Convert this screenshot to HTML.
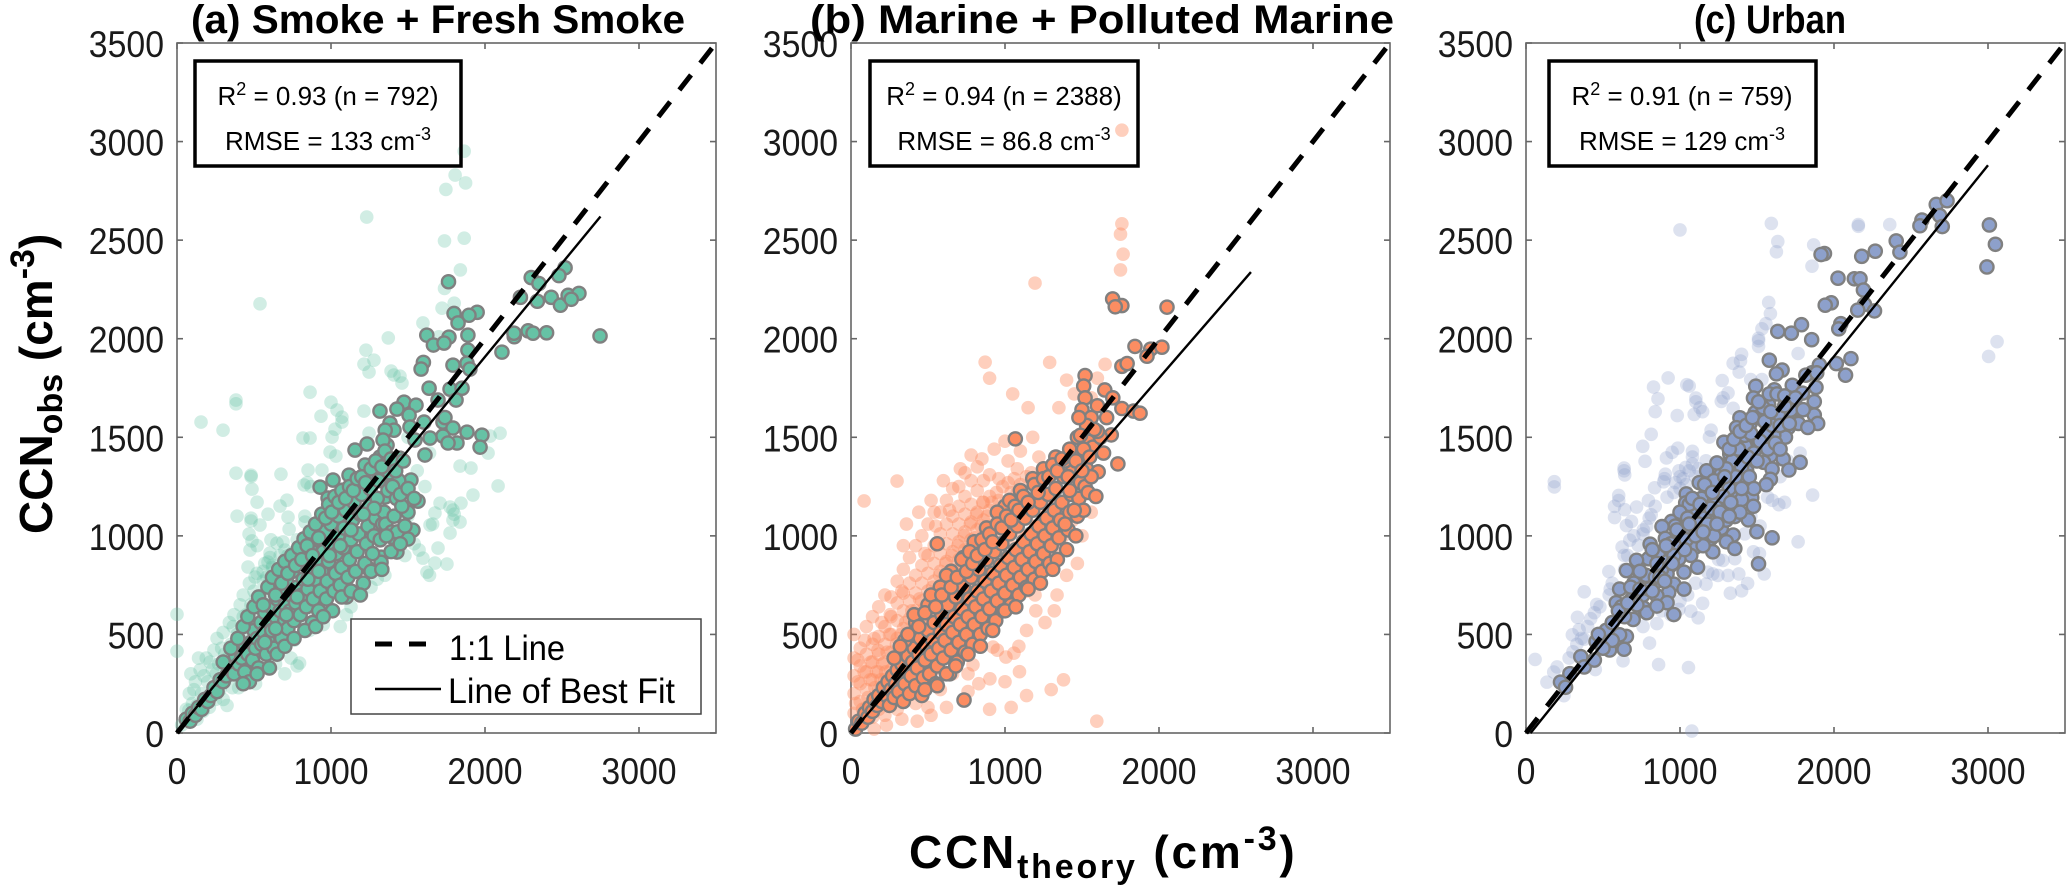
<!DOCTYPE html>
<html>
<head>
<meta charset="utf-8">
<title>CCN closure scatter panels</title>
<style>
html,body{margin:0;padding:0;background:#fff;}
svg{display:block;font-family:"Liberation Sans",sans-serif;}
</style>
</head>
<body>
<svg id="figure" width="2067" height="892" viewBox="0 0 2067 892" xmlns="http://www.w3.org/2000/svg">
  <rect width="2067" height="892" fill="#fff"/>
  <g id="panels"></g>

  <text x="191" y="33" font-size="40" font-weight="bold" textLength="494" lengthAdjust="spacingAndGlyphs">(a) Smoke + Fresh Smoke</text>
  <text x="810" y="33" font-size="40" font-weight="bold" textLength="584" lengthAdjust="spacingAndGlyphs">(b) Marine + Polluted Marine</text>
  <text x="1694" y="33" font-size="40" font-weight="bold" textLength="152" lengthAdjust="spacingAndGlyphs">(c) Urban</text>

  <g transform="translate(52,534) rotate(-90)">
    <text font-size="46" font-weight="bold">CCN<tspan font-size="34" dy="10">obs</tspan><tspan dy="-10"> (cm</tspan><tspan font-size="34" dy="-18">-3</tspan><tspan dy="18">)</tspan></text>
  </g>
  <g transform="translate(909,868)">
    <text font-size="46" font-weight="bold" letter-spacing="2.8">CCN<tspan font-size="34" dy="10">theory</tspan><tspan dy="-10"> (cm</tspan><tspan font-size="34" dy="-18">-3</tspan><tspan dy="18">)</tspan></text>
  </g>

  <g>
    <rect x="195" y="61" width="266" height="105" fill="none" stroke="#000" stroke-width="3.5"/>
    <text x="328" y="105" font-size="26" text-anchor="middle">R<tspan font-size="18" dy="-10">2</tspan><tspan dy="10"> = 0.93 (n = 792)</tspan></text>
    <text x="328" y="150" font-size="26" text-anchor="middle">RMSE = 133 cm<tspan font-size="18" dy="-10">-3</tspan></text>
  </g>
  <g>
    <rect x="870" y="61" width="268" height="105" fill="none" stroke="#000" stroke-width="3.5"/>
    <text x="1004" y="105" font-size="26" text-anchor="middle">R<tspan font-size="18" dy="-10">2</tspan><tspan dy="10"> = 0.94 (n = 2388)</tspan></text>
    <text x="1004" y="150" font-size="26" text-anchor="middle">RMSE = 86.8 cm<tspan font-size="18" dy="-10">-3</tspan></text>
  </g>
  <g>
    <rect x="1549" y="61" width="267" height="105" fill="none" stroke="#000" stroke-width="3.5"/>
    <text x="1682" y="105" font-size="26" text-anchor="middle">R<tspan font-size="18" dy="-10">2</tspan><tspan dy="10"> = 0.91 (n = 759)</tspan></text>
    <text x="1682" y="150" font-size="26" text-anchor="middle">RMSE = 129 cm<tspan font-size="18" dy="-10">-3</tspan></text>
  </g>

  <g>
    <rect x="351" y="619" width="350" height="95" fill="#fff" stroke="#444" stroke-width="1.5"/>
    <line x1="375" y1="644" x2="392" y2="644" stroke="#000" stroke-width="5"/>
    <line x1="409" y1="644" x2="426" y2="644" stroke="#000" stroke-width="5"/>
    <text x="449" y="660" font-size="35" textLength="116" lengthAdjust="spacingAndGlyphs">1:1 Line</text>
    <line x1="375" y1="689" x2="441" y2="689" stroke="#000" stroke-width="2.5"/>
    <text x="448" y="703" font-size="35" textLength="227" lengthAdjust="spacingAndGlyphs">Line of Best Fit</text>
  </g>
</svg>

<script>
const xTicks = [0, 1000, 2000, 3000];
const yTicks = [0, 500, 1000, 1500, 2000, 2500, 3000, 3500];
const oneToOne = [[0, 0], [3500, 3500]];
const smokeFit = [[0, 10], [2750, 2620]];
const marineFit = [[0, 0], [2597, 2338]];
const urbanFit = [[30, 0], [3000, 2880]];

const smokeLight = [
[1865,2951],[1806,2830],[1874,2790],[1746,2757],[1232,2617],[1737,2496],[1865,2510],[1840,2349],[1737,2255],[539,2177],
[1372,2004],[1227,1942],[1279,1891],[1214,1871],[1247,1831],[1390,1836],[1409,1816],[1448,1810],[1461,1775],[1597,2080],
[1721,2155],[383,1689],[383,1670],[156,1577],[299,1536],[864,1729],[1000,1678],[1039,1638],[935,1607],[1071,1602],
[1071,1577],[1214,1633],[1026,1541],[818,1496],[864,1496],[1007,1501],[1247,1521],[994,1425],[1032,1405],[383,1318],
[481,1308],[481,1300],[675,1313],[851,1334],[941,1334],[825,1258],[845,1270],[870,1250],[487,1237],[520,1171],
[714,1181],[669,1151],[390,1100],[591,1110],[481,1090],[481,1075],[721,1095],[539,1055],[831,1070],[728,1034],
[468,1009],[487,974],[474,928],[649,963],[689,969],[604,913],[604,890],[701,928],[747,913],[591,867],
[461,842],[507,791],[584,791],[620,850],[670,830],[2098,1521],[2033,1506],[2020,1420],[1838,1354],[1909,1344],
[2085,1253],[1922,1207],[1844,1166],[1708,1166],[1773,1146],[1675,1116],[1792,1131],[1800,1110],[1792,1080],[1838,1070],
[1643,1055],[1660,1060],[1773,1014],[1695,938],[1572,928],[1597,887],[1675,862],[1753,857],[1623,816],[1640,800],
[0,602],[0,415],[30,40],[60,120],[77,115],[80,200],[100,150],[120,260],[130,70],[150,320],
[160,200],[170,110],[190,380],[200,260],[210,130],[230,320],[240,420],[250,170],[260,480],[270,350],
[280,220],[300,510],[310,400],[320,280],[325,140],[340,560],[350,450],[370,600],[380,340],[390,500],
[400,230],[410,650],[420,540],[430,700],[440,420],[450,600],[460,310],[470,760],[480,650],[490,530],
[500,720],[510,250],[520,810],[540,620],[550,350],[560,770],[570,860],[590,700],[610,560],[620,840],
[630,400],[650,760],[670,900],[690,830],[710,470],[740,380],[760,470],[780,340],[796,355],[820,560],
[860,520],[900,600],[950,550],[1000,620],[1060,540],[1100,600],[1130,640],[1200,700],[1260,740],[1300,780],
[1350,800],[1480,900],[1540,960],[1500,1100],[1610,1250],[1560,1330],[1500,1500],[1640,1420],[1700,2010],[1800,2180],
[90,300],[110,220],[140,380],[175,290],[215,360],[255,300],[290,430],[330,380],[365,540],[395,430],
[430,590],[465,520],[510,680],[555,560],[600,760],[650,640],[720,900],[780,980],[830,1100],[480,350],
[570,420],[680,550],[760,600],[850,680],[940,760],[130,140],[70,80],[300,170],[360,230],[440,250],
[640,350],[700,300],[560,820],[610,980],[520,950]
];
const smokeDark = [
[2747,2014],[1763,2289],[2300,2310],[2340,2190],[2230,2210],[2400,2030],[2280,2040],[2190,2010],[2430,2210],[2490,2170],
[2520,2360],[2480,2320],[2540,2220],[2610,2230],[2560,2200],[2350,2280],[1949,2134],[1799,2128],[1896,2119],[1825,2080],
[1622,2018],[1889,2018],[1766,2008],[1665,1968],[1734,1978],[1889,1942],[2188,2028],[2312,2028],[2110,1932],[1600,1880],
[1585,1846],[1792,1866],[1883,1876],[1902,1846],[1637,1749],[1773,1744],[1851,1749],[1812,1689],[1695,1689],[1474,1678],
[1318,1633],[1428,1643],[1552,1663],[1507,1612],[1383,1572],[1409,1536],[1352,1536],[1604,1577],[1513,1552],[1727,1577],
[1740,1600],[1792,1547],[1883,1526],[1980,1511],[1727,1506],[1643,1496],[1968,1450],[1818,1471],[1760,1471],[1610,1410],
[1545,1486],[1234,1466],[1156,1435],[1364,1460],[1338,1486],[1318,1400],[1448,1394],[1221,1359],[1253,1298],[1117,1308],
[1013,1283],[929,1247],[1352,1308],[1519,1283],[1078,1232],[1169,1212],[1352,1197],[1565,1176],[981,1192],[1071,1161],
[1532,1029],[1500,984],[1428,918],[1396,994],[1325,892],[1325,866],[1240,836],[1240,1039],
[60,70],[85,60],[100,100],[120,90],[140,130],[160,120],[180,170],[200,160],[220,190],[240,230],
[260,210],[280,270],[300,260],[320,290],[330,350],[350,320],[370,300],[380,390],[400,350],[410,420],
[420,380],[440,310],[440,450],[460,400],[470,260],[480,460],[490,370],[500,520],[510,430],[520,480],
[530,330],[545,560],[550,450],[565,510],[570,610],[580,400],[590,470],[600,560],[610,640],[615,520],
[630,430],[640,590],[650,680],[655,530],[670,620],[680,480],[690,710],[700,570],[705,650],[715,760],
[720,530],[735,620],[740,700],[750,820],[760,570],[770,660],[780,740],[790,860],[800,600],[810,700],
[820,780],[830,900],[840,640],[850,730],[860,830],[870,950],[880,560],[885,680],[895,780],[905,880],
[910,980],[920,620],[930,720],[940,820],[950,920],[960,1020],[970,680],[975,770],[985,870],[995,960],
[1000,1060],[1010,620],[1020,720],[1030,810],[1035,910],[1045,1000],[1050,1100],[1060,750],[1070,840],[1080,940],
[1085,1040],[1095,1130],[1100,690],[1110,790],[1120,880],[1130,980],[1140,1080],[1150,1170],[1160,820],[1170,920],
[1180,1010],[1190,1110],[1200,1210],[1210,760],[1220,860],[1230,960],[1240,1050],[1250,1150],[1255,1240],[1270,910],
[1280,1000],[1290,1090],[1300,1190],[1310,1280],[1320,980],[1335,1060],[1345,1120],[1355,1060],[1370,1230],[1380,1320],
[1395,1020],[1410,1100],[1425,1190],[1440,1280],[1430,1020],[1480,1050],[1500,1120],[1460,1150],[1400,1250],[1450,1210],
[300,360],[350,430],[395,480],[430,540],[460,590],[500,640],[530,690],[560,650],[590,740],[620,790],
[640,700],[660,830],[680,760],[700,870],[720,810],[745,900],[770,850],[790,940],[810,880],[825,985],
[845,950],[865,1020],[880,900],[900,1060],[920,990],[940,1110],[965,1090],[985,1160],[1005,1120],[1025,1200],
[1050,1170],[1070,1230],[1095,1190],[1120,1250],[1145,1230],[1170,1290],[1200,1300],[1225,1270],[1260,1340],[1290,1380],
[1330,1350],[1350,1430],[1390,1390],[1420,1330],[1470,1380],[1500,1240],[1540,1190],[430,250],[520,300],[600,330],
[650,400],[700,440],[760,480],[830,520],[900,540],[950,590],[1070,690],[1130,720],[1190,700],[1260,820],
[1330,830],[1390,920],[1450,960],[1360,1000],[1280,1140],[1210,1110],[1130,1030],[1060,950],[990,900],[920,820],
[850,780],[780,690],[710,600],[640,530],[570,460]
];

const marineLight = [
[20,100],[20,200],[20,290],[20,380],[20,500],[60,60],[60,160],[60,250],[60,340],[60,430],
[85,1177],[100,130],[100,220],[100,310],[100,400],[100,540],[140,80],[140,170],[140,270],[140,360],
[140,450],[140,590],[180,120],[180,220],[180,310],[180,400],[180,490],[180,640],[220,90],[220,180],
[220,270],[220,360],[220,450],[220,540],[220,700],[260,140],[260,230],[260,320],[260,410],[260,500],
[260,590],[260,690],[299,1278],[300,120],[300,210],[300,300],[300,390],[300,480],[300,570],[300,660],
[300,770],[340,170],[340,260],[340,350],[340,440],[340,530],[340,620],[340,710],[340,830],[340,950],
[380,220],[380,310],[380,400],[380,490],[380,580],[380,670],[380,760],[380,890],[420,150],[420,260],
[420,350],[420,440],[420,530],[420,620],[420,710],[420,800],[420,950],[460,200],[460,310],[460,400],
[460,490],[460,580],[460,670],[460,760],[460,850],[460,1000],[500,130],[500,260],[500,360],[500,450],
[500,540],[500,630],[500,720],[500,810],[500,900],[500,1060],[540,320],[540,410],[540,500],[540,590],
[540,680],[540,770],[540,860],[540,950],[540,1120],[580,220],[580,370],[580,460],[580,550],[580,640],
[580,730],[580,820],[580,910],[580,1010],[580,1120],[620,420],[620,510],[620,600],[620,690],[620,780],
[620,870],[620,960],[620,1060],[620,1180],[660,300],[660,470],[660,560],[660,650],[660,740],[660,830],
[660,920],[660,1010],[660,1100],[660,1240],[700,520],[700,610],[700,700],[700,790],[700,880],[700,970],
[700,1060],[700,1150],[700,1250],[740,420],[740,570],[740,660],[740,750],[740,840],[740,930],[740,1020],
[740,1110],[740,1200],[740,1320],[780,620],[780,710],[780,800],[780,890],[780,980],[780,1070],[780,1160],
[780,1280],[820,500],[820,670],[820,760],[820,850],[820,940],[820,1030],[820,1120],[820,1230],[820,1350],
[860,720],[860,810],[860,900],[860,990],[860,1080],[860,1170],[860,1280],[900,600],[900,770],[900,860],
[900,950],[900,1040],[900,1130],[900,1200],[900,1310],[960,820],[960,910],[960,1000],[960,1090],[960,1180],
[960,1290],[1020,700],[1020,880],[1020,970],[1020,1060],[1020,1150],[1020,1270],[1020,1380],[1080,800],[1080,940],
[1080,1030],[1080,1120],[1080,1220],[1080,1340],[1140,720],[1140,1000],[1140,1090],[1140,1180],[1140,1300],[1200,860],
[1200,1050],[1200,1250],[1260,900],[1260,1120],[1320,940],[1320,1180],[1380,1000],[1440,1080],[1500,1000],[1560,1120],
[1759,3058],[1759,2583],[1750,2530],[1767,2429],[1750,2349],[1195,2282],[871,1881],[1050,1720],[900,1800],[1600,1800],
[1400,1790],[1150,1650],[1290,1880],[1180,1500],[1350,1650],[1450,1720],[1650,1870],[1560,1700],[1596,60],[1380,270],
[1300,220],[1338,700],[1195,700],[922,436],[1058,405],[1006,385],[950,420],[1094,311],[792,346],[902,275],
[830,250],[760,300],[900,120],[1140,190],[1040,130],[1200,620],[1260,560],[1320,620],[1400,800],[1470,860],
[1140,520],[1090,440],[1000,260],[760,210],[620,130],[520,90],[430,60],[330,70],[230,40],[150,20],
[30,150],[45,260],[75,120],[85,310],[110,180],[125,270],[130,360],[155,230],[165,310],[175,420],
[195,270],[205,350],[225,310],[235,410],[250,500],[275,380],[285,300],[295,450],[315,350],[325,500],
[345,410],[355,560],[370,470],[385,360],[395,620],[405,520],[425,420],[435,580],[445,680],[470,470],
[475,630],[485,540],[515,490],[525,600],[530,740],[555,550],[565,670],[575,800],[595,600],[605,710],
[615,860],[635,650],[645,770],[655,900],[675,700],[685,820],[695,950],[715,760],[725,880],[735,1000],
[755,810],[765,930],[775,1060],[795,860],[805,990],[815,1110],[835,910],[845,1050],[855,1170],[875,960],
[885,1100],[905,1010],[915,1170],[935,1060],[945,1220],[975,1120],[985,1250],[1005,1170],[1040,1220],[1060,1290],
[1100,1260],[1170,1320],[330,720],[255,600],[200,560],[150,480],[90,470],[45,370],[480,910],[550,1050],
[640,1130],[600,1280],[520,1180],[440,1120],[360,1060],[710,1340],[780,1410],[850,1390],[930,1440],[1000,1480],
[1100,1430],[1220,1400]
];
const marineDark = [
[30,20],[50,60],[70,50],[90,100],[110,80],[120,130],[140,110],[150,170],[170,140],[180,190],
[200,160],[210,230],[230,190],[240,260],[250,140],[260,220],[270,290],[280,180],[290,250],[300,320],
[310,210],[320,280],[330,350],[340,160],[350,250],[360,320],[370,390],[380,200],[390,290],[400,360],
[410,430],[420,240],[430,330],[440,400],[450,480],[460,190],[470,280],[480,370],[490,440],[500,520],
[510,300],[520,400],[530,470],[540,560],[550,250],[560,340],[570,430],[580,510],[590,600],[600,380],
[610,470],[620,550],[630,650],[640,300],[650,420],[660,510],[670,590],[680,690],[690,360],[700,460],
[710,550],[720,630],[730,740],[734,167],[740,410],[750,500],[760,590],[770,680],[780,790],[790,450],
[800,550],[810,640],[820,720],[830,830],[840,500],[850,590],[860,680],[870,770],[880,880],[890,530],
[900,630],[910,720],[920,810],[930,920],[940,570],[950,670],[960,760],[970,850],[980,960],[990,620],
[1000,710],[1010,800],[1020,890],[1030,1010],[1040,650],[1050,750],[1060,840],[1070,930],[1080,1050],[1090,700],
[1100,790],[1110,880],[1120,970],[1130,1090],[1140,740],[1150,830],[1160,920],[1170,1010],[1180,1130],[1190,780],
[1200,870],[1210,960],[1220,1050],[1230,1170],[1240,820],[1250,910],[1260,1000],[1270,1090],[1280,1210],[1290,860],
[1300,950],[1310,1040],[1320,1130],[1330,1240],[1340,880],[1350,990],[1360,1080],[1370,1170],[1380,1300],[1400,930],
[1410,1030],[1420,1120],[1430,1210],[1440,1350],[1460,1000],[1470,1100],[1480,1190],[1490,1270],[1500,1420],[1510,1130],
[1520,1250],[1530,1340],[1540,1480],[1520,1813],[1511,1760],[1520,1700],[1500,1640],[1560,1600],[1600,1660],[1648,1740],
[1700,1700],[1759,1646],[1835,1633],[1690,1512],[1733,1365],[1605,1325],[1067,1492],[1699,2202],[1759,2168],[1716,2162],
[2052,2160],[1844,1961],[1946,1947],[1759,1860],[1793,1874],[2019,1957],[1922,1911],[1877,1622],[1570,1450],[1620,1500],
[1640,1420],[1560,1300],[1600,1530],[1470,1500],[1450,1420],[1390,1380],[1660,1600],[1530,1560],[560,960],[1000,1150],
[350,470],[500,650],[650,820],[800,970],[950,1120],[1100,1230],[1250,1340],[420,560],[580,740],[730,890],
[880,1040],[1030,1180],[1180,1290],[1330,1400],
[280,380],[320,440],[370,500],[410,600],[440,540],[480,610],[520,700],[550,640],[590,700],[620,800],
[650,740],[690,790],[720,880],[750,820],[770,920],[790,860],[820,900],[850,980],[870,930],[900,1010],
[920,970],[950,1060],[980,1040],[1010,1100],[1040,1080],[1065,1150],[1090,1130],[1120,1200],[1150,1170],[1190,1260],
[1215,1220],[1250,1290],[1285,1300],[1310,1360],[1340,1330],[1370,1390],[1410,1300],[1420,1440],[1460,1380],[1490,1510],
[1510,1440],[1550,1400],[1580,1540],[1480,1600],[1420,1230],[1500,1330],[1540,1220],[1590,1200],[1450,1130],[1390,1060],
[480,220],[560,240],[620,300],[680,340],[760,400],[840,440],[920,520],[1000,620],[1070,640],[1150,730],
[1230,760],[1310,830]
];

const urbanLight = [
[1000,2552],[1593,2585],[1635,2493],[1626,2441],[1868,2476],[1857,2368],[2158,2579],[2158,2570],[2362,2579],[1576,2184],
[1587,2127],[1558,2076],[1532,2050],[1510,2002],[1510,1990],[1510,1961],[1767,1925],[1400,1921],[1345,1875],[1393,1887],
[1384,1831],[923,1801],[828,1755],[1044,1767],[1060,1760],[1274,1788],[857,1695],[1103,1699],[1103,1680],[1268,1682],
[1280,1700],[1312,1725],[839,1630],[982,1610],[1092,1616],[1147,1630],[1130,1650],[1345,1647],[1459,1793],[1532,1793],
[813,1515],[1202,1536],[1191,1501],[758,1454],[986,1445],[949,1424],[1081,1429],[1081,1400],[773,1378],[912,1395],
[637,1344],[637,1330],[641,1309],[184,1275],[184,1248],[905,1313],[894,1274],[900,1290],[835,1244],[1037,1347],
[993,1330],[1081,1364],[1169,1381],[971,1270],[602,1205],[602,1179],[575,1150],[641,1133],[718,1146],[795,1179],
[839,1150],[916,1196],[575,1093],[813,1107],[685,1073],[652,1052],[784,1047],[762,1030],[1861,1207],[1679,1170],
[1642,1158],[1569,1196],[1767,970],[1477,919],[1516,910],[674,978],[729,952],[624,943],[637,901],[1356,884],
[1279,875],[538,819],[547,730],[378,716],[1180,816],[1312,799],[1382,807],[1547,807],[1213,807],[1246,799],
[1169,755],[1439,759],[1400,721],[1327,709],[1147,658],[1070,618],[993,627],[1118,584],[459,652],[444,610],
[334,587],[345,524],[301,498],[378,476],[850,555],[802,456],[630,366],[861,347],[1055,332],[305,412],
[450,322],[59,373],[202,335],[180,309],[136,258],[246,189],[1077,10],[3059,1985],[3004,1910],[1000,1300],
[1020,1290],[1060,1330],[1000,1240],[1040,1260],[960,1220],[1100,1300],[1120,1340],[760,1010],[800,1090],[700,1000],
[660,900],[640,830],[560,760],[540,700],[480,640],[420,580],[360,480],[400,540],[330,450],[280,380],
[700,600],[760,540],[880,620],[940,600],[1000,670],[1050,700],[1100,760],[1250,880],[1350,940],[1420,1010],
[1460,1100],[1520,1050],[1600,1180],[1650,1300],[1700,1380],[1780,1420]
];
const urbanDark = [
[3009,2577],[3048,2479],[2993,2364],[2664,2681],[2734,2700],[2686,2625],[2703,2569],[2571,2602],[2558,2573],[2404,2496],
[2428,2439],[2268,2444],[2180,2418],[1938,2432],[1916,2427],[2026,2307],[2132,2304],[2169,2304],[2191,2247],[1982,2182],
[1943,2170],[2198,2174],[2154,2145],[2263,2141],[1789,2071],[1723,2028],[1635,2037],[1855,1995],[2044,2076],[2031,2050],
[1580,1891],[2110,1899],[2015,1874],[2075,1815],[1905,1867],[1857,1827],[1817,1815],[1888,1827],[1663,1841],[1626,1822],
[1729,1764],[1492,1759],[1613,1741],[1883,1753],[1477,1699],[1795,1724],[1576,1665],[1872,1681],[1767,1642],[1488,1625],
[1719,1638],[1389,1599],[1872,1613],[1894,1570],[1769,1570],[1703,1549],[1367,1549],[1455,1570],[1543,1604],[1620,1587],
[1685,1501],[1609,1510],[1285,1475],[1422,1458],[1510,1467],[1323,1416],[1587,1407],[1670,1390],[1780,1373],[1268,1356],
[1543,1373],[1598,1339],[1707,1334],[1587,1287],[1173,1330],[1433,1330],[1268,1313],[1367,1279],[1125,1270],[1433,1279],
[1169,1219],[1041,1213],[1334,1210],[1466,1193],[1400,1184],[1477,1150],[1037,1167],[1312,1150],[1191,1159],[1356,1098],
[1242,1133],[1092,1116],[1011,1107],[945,1073],[1444,1081],[1191,1073],[1044,1052],[883,1047],[1268,1038],[1499,1021],
[1345,1004],[1598,990],[1114,996],[1202,987],[993,987],[905,987],[1301,970],[806,958],[1356,936],[1213,919],
[1103,944],[795,884],[894,910],[1070,901],[993,884],[718,876],[652,824],[740,816],[938,850],[1114,841],
[1510,858],[1026,816],[916,807],[839,764],[960,755],[1026,730],[608,730],[927,713],[850,696],[586,661],
[762,635],[685,678],[916,661],[960,601],[784,610],[696,576],[850,644],[521,521],[652,490],[455,464],
[608,498],[543,421],[637,425],[356,387],[378,335],[285,301],[224,258],[257,232],[444,370],
[700,760],[780,800],[860,900],[940,960],[1020,1040],[1100,1130],[1180,1230],[1260,1280],[1340,1380],[1420,1510],
[1500,1600],[1580,1720],[760,700],[840,790],[920,870],[1000,940],[1080,1020],[1160,1090],[1240,1180],[1320,1240],
[1400,1350],[1480,1420],[1560,1520],[1640,1620],[640,590],[720,650],[800,730],[880,830],[960,900],[1040,980],
[1120,1060],[1200,1140],[1280,1200],[1360,1300],[1440,1400],[1520,1480],[1600,1560],[1680,1660],[560,560],[620,640],
[1060,1160],[1140,1190],[1220,1280],[1300,1340],[1380,1440],[1460,1520],[1540,1650],[1220,1000],[1300,1080],[1150,950],
[600,620],[680,740],[740,820],[820,930],[850,860],[910,950],[970,1050],[1000,1120],[1050,1090],[1080,1190],
[1130,1160],[1160,1260],[1210,1220],[1240,1370],[1290,1300],[1320,1440],[1350,1490],[1390,1530],[1430,1560],[1470,1600],
[1510,1680],[1550,1580],[1590,1630],[1630,1720],[1650,1560],[1680,1710],[1710,1570],[1750,1700],[1800,1640],[1830,1550],
[870,790],[950,860],[1030,930],[1100,1000],[1180,1060],[1260,1120],[1330,1170],[1390,1120],[1450,1300],[1500,1380],
[1570,1440],[1620,1470],[1650,1440],[1560,1260],[1480,1240],[1400,1240],[1320,1100],[1240,1060],[1150,1020],[1060,1060],
[980,1030],[900,770],[820,720],[740,730],[660,660],[560,470],[500,430],[470,500]
];

const svgNS = 'http://www.w3.org/2000/svg';
const plotTop = 43, plotBottom = 733, plotWidth = 539, dataMax = 3500;
const panelLefts = { smoke: 177, marine: 851, urban: 1526 };

function xScale(panel, value) { return panelLefts[panel] + value / dataMax * plotWidth; }
function yScale(value) { return plotBottom - value / dataMax * (plotBottom - plotTop); }

function drawFrame(root, panel) {
  const left = panelLefts[panel], right = left + plotWidth;
  const frame = document.createElementNS(svgNS, 'rect');
  
  
  frame.setAttribute('x', left);
  frame.setAttribute('y', plotTop);
  frame.setAttribute('width', plotWidth);
  frame.setAttribute('height', plotBottom - plotTop);
  frame.setAttribute('fill', 'none');
  frame.setAttribute('stroke', '#666');
  frame.setAttribute('stroke-width', '1.6');
  root.appendChild(frame);

  xTicks.forEach(function (tick) {
    const px = xScale(panel, tick);
    [[plotBottom, plotBottom - 6], [plotTop, plotTop + 6]].forEach(function (ends) {
      const mark = document.createElementNS(svgNS, 'line');
      
      
      mark.setAttribute('x1', px);
      mark.setAttribute('x2', px);
      mark.setAttribute('y1', ends[0]);
      mark.setAttribute('y2', ends[1]);
      mark.setAttribute('stroke', '#666');
      mark.setAttribute('stroke-width', '1.6');
      root.appendChild(mark);
    });
    const label = document.createElementNS(svgNS, 'text');
    
    
    label.setAttribute('x', px);
    label.setAttribute('y', 784);
    label.setAttribute('font-size', '37');
    label.setAttribute('fill', '#1a1a1a');
    label.setAttribute('text-anchor', 'middle');
    label.setAttribute('textLength', String(tick).length * 18.8);
    label.setAttribute('lengthAdjust', 'spacingAndGlyphs');
    label.textContent = tick;
    root.appendChild(label);
  });

  yTicks.forEach(function (tick) {
    const py = yScale(tick);
    [[left, left + 6], [right, right - 6]].forEach(function (ends) {
      const mark = document.createElementNS(svgNS, 'line');
      
      
      mark.setAttribute('x1', ends[0]);
      mark.setAttribute('x2', ends[1]);
      mark.setAttribute('y1', py);
      mark.setAttribute('y2', py);
      mark.setAttribute('stroke', '#666');
      mark.setAttribute('stroke-width', '1.6');
      root.appendChild(mark);
    });
    const label = document.createElementNS(svgNS, 'text');
    
    
    label.setAttribute('x', left - 13);
    label.setAttribute('y', py + 14);
    label.setAttribute('font-size', '37');
    label.setAttribute('fill', '#1a1a1a');
    label.setAttribute('text-anchor', 'end');
    label.setAttribute('textLength', String(tick).length * 18.8);
    label.setAttribute('lengthAdjust', 'spacingAndGlyphs');
    label.textContent = tick;
    root.appendChild(label);
  });
}

function drawLightPoints(root, panel, points, color, alpha) {
  points.forEach(function (p) {
    const dot = document.createElementNS(svgNS, 'circle');
    
    
    dot.setAttribute('cx', xScale(panel, p[0]));
    dot.setAttribute('cy', yScale(p[1]));
    dot.setAttribute('r', '6.8');
    dot.setAttribute('fill', color);
    dot.setAttribute('fill-opacity', alpha);
    root.appendChild(dot);
  });
}

function drawDarkPoints(root, panel, points, color) {
  points.forEach(function (p) {
    const dot = document.createElementNS(svgNS, 'circle');
    
    
    dot.setAttribute('cx', xScale(panel, p[0]));
    dot.setAttribute('cy', yScale(p[1]));
    dot.setAttribute('r', '6.6');
    dot.setAttribute('fill', color);
    dot.setAttribute('stroke', '#808080');
    dot.setAttribute('stroke-width', '2.4');
    root.appendChild(dot);
  });
}

function drawOneToOne(root, panel) {
  const line = document.createElementNS(svgNS, 'line');
  
  
  line.setAttribute('x1', xScale(panel, oneToOne[0][0]));
  line.setAttribute('y1', yScale(oneToOne[0][1]));
  line.setAttribute('x2', xScale(panel, oneToOne[1][0]));
  line.setAttribute('y2', yScale(oneToOne[1][1]));
  line.setAttribute('stroke', '#000');
  line.setAttribute('stroke-width', '5');
  line.setAttribute('stroke-dasharray', '19 15');
  root.appendChild(line);
}

function drawFit(root, panel, fit) {
  const line = document.createElementNS(svgNS, 'line');
  
  
  line.setAttribute('x1', xScale(panel, fit[0][0]));
  line.setAttribute('y1', yScale(fit[0][1]));
  line.setAttribute('x2', xScale(panel, fit[1][0]));
  line.setAttribute('y2', yScale(fit[1][1]));
  line.setAttribute('stroke', '#000');
  line.setAttribute('stroke-width', '2.4');
  root.appendChild(line);
}

function drawPanel(panel, light, dark, fit, color, alpha) {
  const group = document.createElementNS(svgNS, 'g');
  
  
  document.getElementById('panels').appendChild(group);
  drawFrame(group, panel);
  drawLightPoints(group, panel, light, color, alpha);
  drawDarkPoints(group, panel, dark, color);
  drawOneToOne(group, panel);
  drawFit(group, panel, fit);
}

drawPanel('smoke', smokeLight, smokeDark, smokeFit, '#66c2a5', '0.3');
drawPanel('marine', marineLight, marineDark, marineFit, '#fc8d62', '0.42');
drawPanel('urban', urbanLight, urbanDark, urbanFit, '#8da0cb', '0.3');
</script>
</body>
</html>
